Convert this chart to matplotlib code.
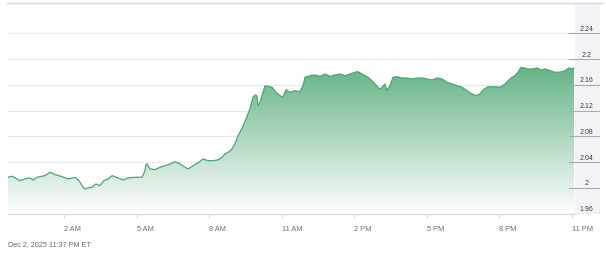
import numpy as np
import matplotlib
matplotlib.use("Agg")
import matplotlib.pyplot as plt
from matplotlib.patches import Rectangle
from matplotlib.colors import LinearSegmentedColormap

# ---- data (hours since midnight ET, price) ----
hours = [-0.32, -0.15, 0.18, 0.39, 0.59, 0.72, 0.88, 1.21, 1.42, 1.63, 1.92, 2.17, 2.46, 2.62,
         2.79, 2.87, 2.99, 3.16, 3.32, 3.49, 3.65, 3.82, 3.99, 4.23, 4.44, 4.65, 4.94, 5.23,
         5.35, 5.39, 5.43, 5.56, 5.77, 5.97, 6.18, 6.39, 6.59, 6.80, 7.01, 7.13, 7.34, 7.54,
         7.75, 7.96, 8.16, 8.37, 8.54, 8.66, 8.79, 8.95, 9.07, 9.20, 9.28, 9.41, 9.53, 9.69,
         9.82, 9.90, 9.98, 10.03, 10.11, 10.23, 10.32, 10.44, 10.61, 10.77, 10.94, 11.06, 11.18,
         11.35, 11.56, 11.76, 11.89, 11.97, 12.18, 12.38, 12.59, 12.80, 13.01, 13.21, 13.42,
         13.63, 13.83, 14.04, 14.16, 14.33, 14.58, 14.74, 14.87, 14.99, 15.07, 15.16, 15.28,
         15.36, 15.49, 15.61, 15.78, 15.98, 16.19, 16.40, 16.60, 16.81, 17.02, 17.23, 17.43,
         17.64, 17.85, 18.05, 18.26, 18.47, 18.67, 18.88, 19.05, 19.21, 19.34, 19.50, 19.63,
         19.83, 20.04, 20.25, 20.37, 20.54, 20.66, 20.78, 20.91, 21.03, 21.20, 21.40, 21.57,
         21.74, 21.90, 22.11, 22.31, 22.52, 22.73, 22.89, 23.02, 23.10]
prices = [2.0166, 2.0182, 2.0113, 2.0140, 2.0155, 2.0124, 2.0166, 2.0191, 2.0244, 2.0207,
          2.0175, 2.0140, 2.0166, 2.0113, 2.0011, 1.9984, 2.0000, 2.0011, 2.0062, 2.0036,
          2.0113, 2.0140, 2.0191, 2.0155, 2.0124, 2.0155, 2.0166, 2.0166, 2.0269, 2.0362,
          2.0373, 2.0295, 2.0284, 2.0321, 2.0346, 2.0373, 2.0408, 2.0373, 2.0321, 2.0295,
          2.0346, 2.0388, 2.0450, 2.0424, 2.0424, 2.0435, 2.0477, 2.0528, 2.0554, 2.0606,
          2.0683, 2.0812, 2.0865, 2.0967, 2.1072, 2.1227, 2.1409, 2.1444, 2.1433, 2.1278,
          2.1331, 2.1486, 2.1589, 2.1579, 2.1564, 2.1486, 2.1433, 2.1409, 2.1527, 2.1486,
          2.1511, 2.1496, 2.1589, 2.1719, 2.1744, 2.1755, 2.1735, 2.1770, 2.1735, 2.1755,
          2.1770, 2.1744, 2.1770, 2.1797, 2.1806, 2.1770, 2.1719, 2.1666, 2.1615, 2.1564,
          2.1537, 2.1564, 2.1615, 2.1511, 2.1589, 2.1719, 2.1729, 2.1708, 2.1708, 2.1693,
          2.1708, 2.1708, 2.1693, 2.1677, 2.1708, 2.1693, 2.1641, 2.1615, 2.1589, 2.1564,
          2.1511, 2.1460, 2.1433, 2.1460, 2.1522, 2.1564, 2.1573, 2.1573, 2.1564, 2.1615,
          2.1666, 2.1719, 2.1744, 2.1797, 2.1874, 2.1864, 2.1848, 2.1848, 2.1864, 2.1833,
          2.1848, 2.1822, 2.1797, 2.1797, 2.1822, 2.1864, 2.1848, 2.1864]
x_ticks = [2, 5, 8, 11, 14, 17, 20, 23]
x_tick_labels = ["2 AM", "5 AM", "8 AM", "11 AM", "2 PM", "5 PM", "8 PM", "11 PM"]
y_ticks = [1.96, 2.0, 2.04, 2.08, 2.12, 2.16, 2.2, 2.24]
y_tick_labels = ["1.96", "2", "2.04", "2.08", "2.12", "2.16", "2.2", "2.24"]
timestamp = "Dec 2, 2025 11:37 PM ET"

plt.rcParams['font.family'] = ['Liberation Sans', 'DejaVu Sans']

W, H = 606, 255
fig = plt.figure(figsize=(W / 100, H / 100), dpi=100)

ax_left, ax_right = 8, 575
ax_top, ax_bot = 4, 214.7
ymin = 1.96
ymax = ymin + (ax_bot - ax_top) * 0.04 / 25.75
xmin = 2 + (ax_left - 64) / 24.17
xmax = 2 + (ax_right - 64) / 24.17

bottom = (H - ax_bot) / H
height = (ax_bot - ax_top) / H
ax = fig.add_axes([ax_left / W, bottom, (ax_right - ax_left) / W, height])
ax.set_xlim(xmin, xmax)
ax.set_ylim(ymin, ymax)

# horizontal grid
for yv in y_ticks[1:]:
    ax.axhline(yv, color='#e8e8ee', lw=0.8, zorder=1)

# gradient fill
x = np.array(hours)
y = np.array(prices)
top_col = (0.40, 0.70, 0.53)
cmap = LinearSegmentedColormap.from_list('g', [(1, 1, 1), top_col])
grad = np.linspace(0, 1, 256).reshape(-1, 1)
ytop = y.max()
im = ax.imshow(grad, extent=[x.min(), x.max(), ymin, ytop], origin='lower',
               aspect='auto', cmap=cmap, vmin=0, vmax=1, zorder=2)
poly = ax.fill_between(x, y, ymin, facecolor='none', edgecolor='none')
clip = poly.get_paths()[0]
im.set_clip_path(clip, transform=ax.transData)
ax.plot(x, y, color='#4fa572', lw=0.9, zorder=3)

# axes styling
for s in ['top', 'right', 'left']:
    ax.spines[s].set_visible(False)
ax.spines['bottom'].set_color('#dcdce3')
ax.spines['bottom'].set_linewidth(1.0)
ax.set_yticks([])
ax.set_xticks(x_ticks)
ax.set_xticklabels([])
ax.tick_params(axis='x', length=3, width=0.6, color='#cfcfd8', direction='out')
for xt, lab in zip(x_ticks, x_tick_labels):
    ax.text(xt, -0.055, lab, transform=ax.get_xaxis_transform(), ha='left', va='top',
            fontsize=5.3, color='#707078')

# top border line
fig.add_artist(plt.Line2D([7 / W, 603 / W], [(H - 4) / H] * 2, color='#d6d6de', lw=1.0))

# price panel axis with ticks/labels
pl, pr = 569, 600
axp = fig.add_axes([pl / W, bottom, (pr - pl) / W, height])
axp.set_xlim(pl, pr)
axp.set_ylim(ymin, ymax)
axp.axis('off')
axp.add_patch(Rectangle((ax_right, ymin), pr - ax_right, ymax - ymin,
                        facecolor='#f3f3f7', edgecolor='none', zorder=0))
for yv, lab in zip(y_ticks, y_tick_labels):
    axp.axhline(yv, color='#a9a9b5', lw=0.8, zorder=1)
    axp.text(586.5, yv + 0.0025, lab, ha='center', va='bottom', fontsize=5.0,
             color='#3c3c48', zorder=2)

fig.text(8 / W, (H - 245) / H, timestamp, ha='left', va='center', fontsize=5.2, color='#6a6a72')

fig.savefig('out.png', dpi=100)
